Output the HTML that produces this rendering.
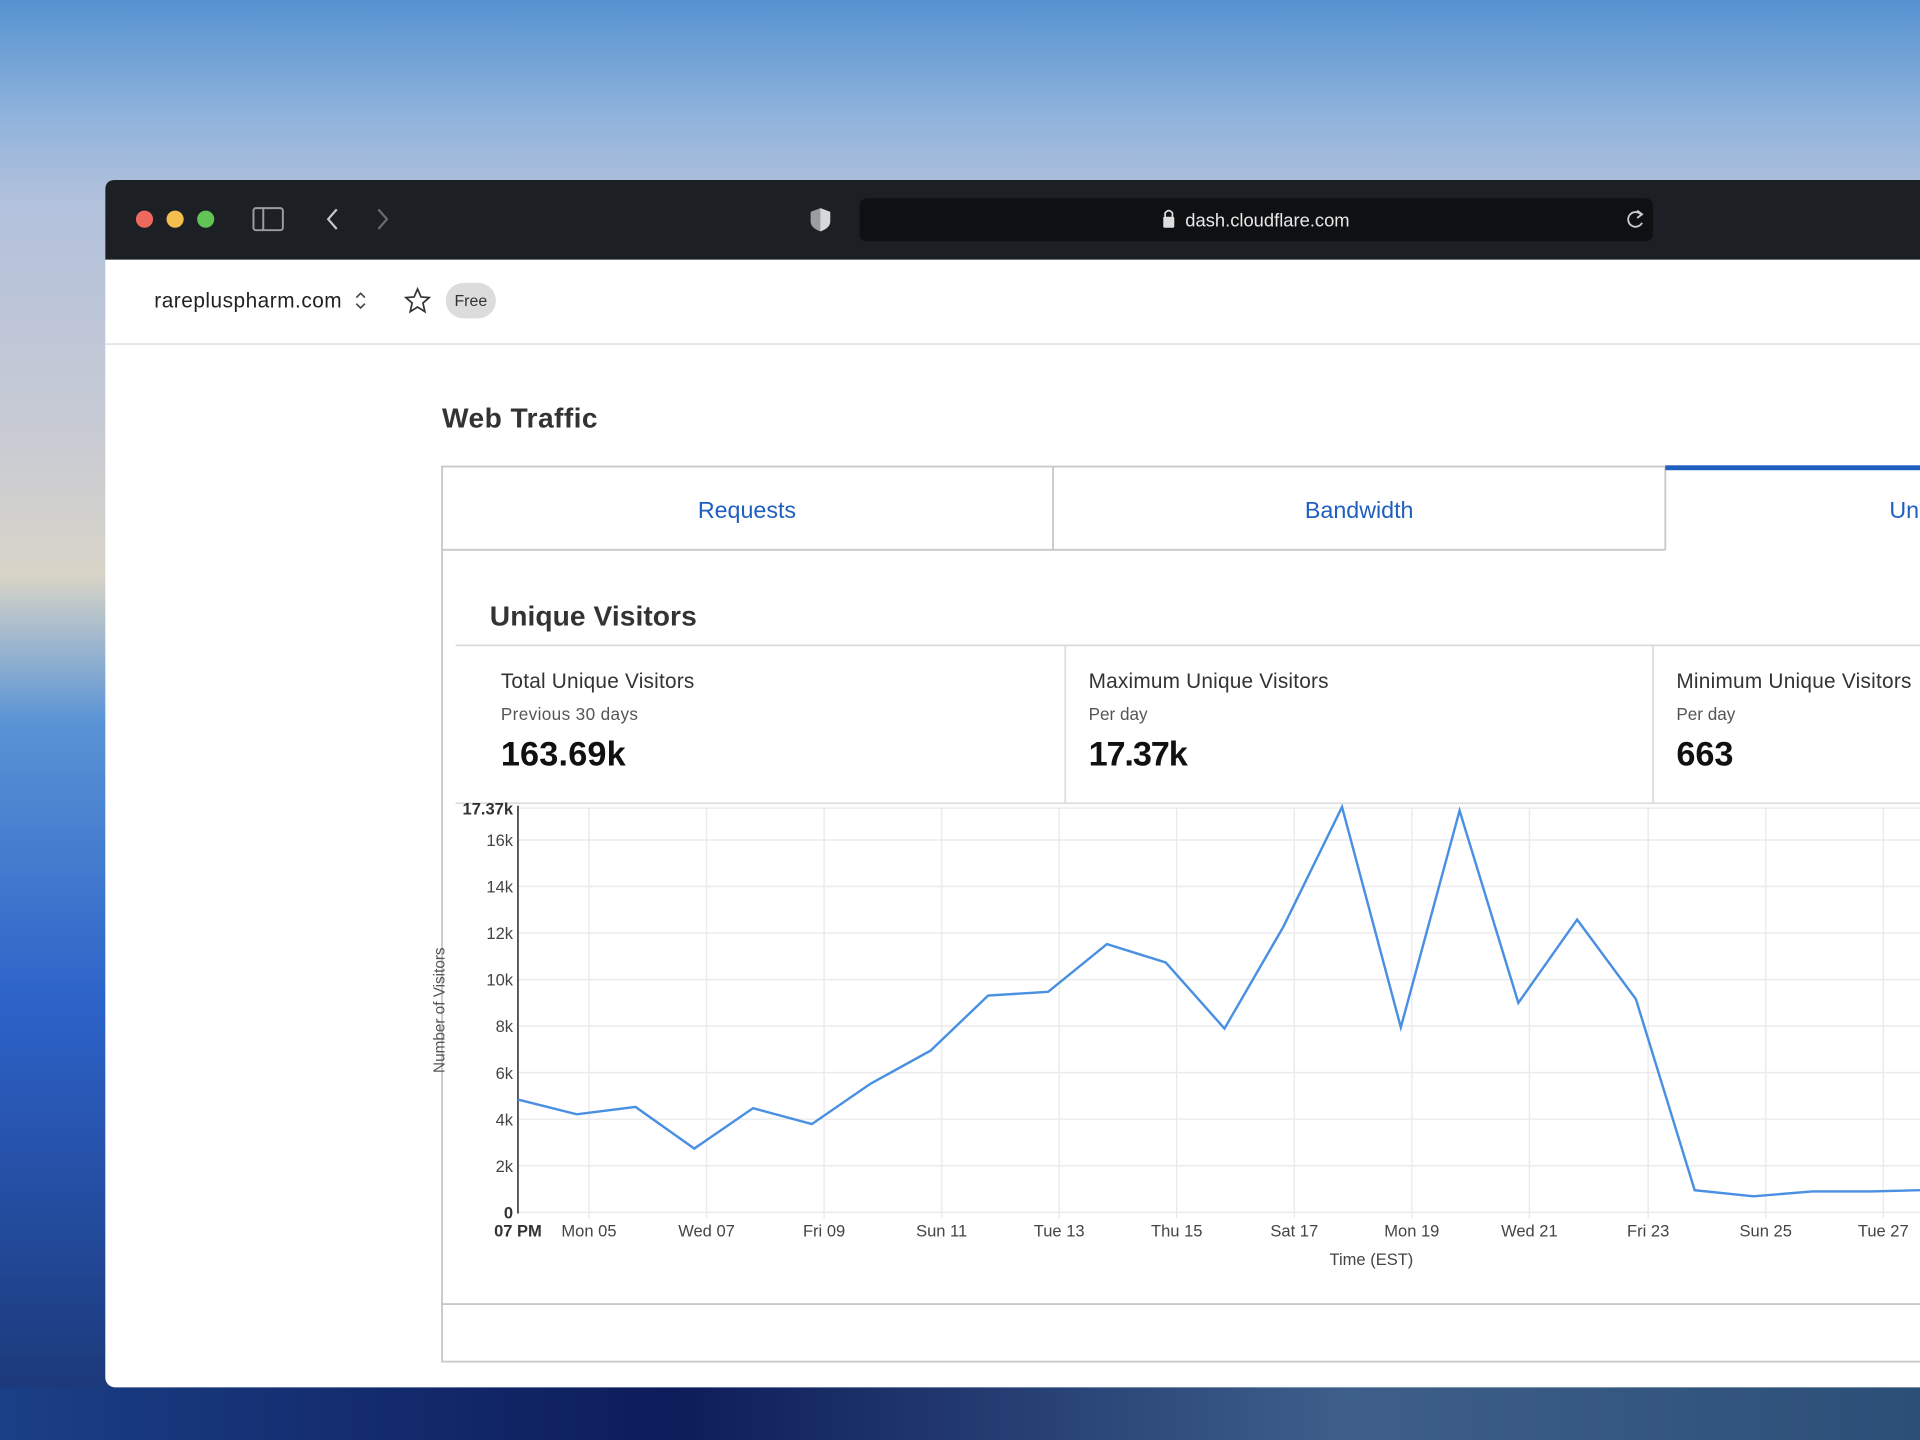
<!DOCTYPE html>
<html><head><meta charset="utf-8"><style>
html,body{margin:0;padding:0;width:1920px;height:1440px;overflow:hidden}
svg{display:block}
text{font-family:"Liberation Sans",sans-serif}
</style></head><body>
<svg width="1920" height="1440" viewBox="0 0 1568 1176" xmlns="http://www.w3.org/2000/svg">
<defs>
<linearGradient id="sky" x1="0" y1="0" x2="0" y2="1">
<stop offset="0" stop-color="#5592d0"/><stop offset="0.08" stop-color="#8fb3dc"/><stop offset="0.14" stop-color="#b2c1dc"/><stop offset="0.3" stop-color="#c8cbd4"/><stop offset="0.4" stop-color="#d8d4c8"/><stop offset="0.5" stop-color="#5a94d4"/><stop offset="0.7" stop-color="#2c62c8"/><stop offset="1" stop-color="#1a3470"/>
</linearGradient>
<linearGradient id="bot" x1="0" y1="0" x2="1" y2="0">
<stop offset="0" stop-color="#1b3f86"/><stop offset="0.35" stop-color="#0d1c5a"/><stop offset="0.7" stop-color="#3d5f8a"/><stop offset="1" stop-color="#2c4f78"/>
</linearGradient>
</defs>
<rect width="1568" height="1176" fill="url(#sky)"/>
<rect x="0" y="1133" width="1568" height="43" fill="url(#bot)"/>
<rect x="86" y="147" width="1500" height="986" rx="8" fill="#fff"/>
<path d="M86 212 V155 Q86 147 94 147 H1568 V212 Z" fill="#1c1f23"/>
<circle cx="118" cy="179" r="7" fill="#ee6a5e"/><circle cx="143" cy="179" r="7" fill="#f5bf4f"/><circle cx="168" cy="179" r="7" fill="#61c454"/>
<rect x="207" y="170" width="24" height="18" rx="2" fill="none" stroke="#9a9da1" stroke-width="1.6"/><line x1="215" y1="170" x2="215" y2="188" stroke="#9a9da1" stroke-width="1.6"/>
<path d="M275 171 L268 179 L275 187" fill="none" stroke="#c8c8c8" stroke-width="1.8"/>
<path d="M309 171 L316 179 L309 187" fill="none" stroke="#6a6d71" stroke-width="1.8"/>
<path d="M670 170 L678 173 V181 Q678 186 670 189 Q662 186 662 181 V173 Z" fill="#9a9da1"/><path d="M670 170 L678 173 V181 Q678 186 670 189 Z" fill="#d8d8d8"/>
<rect x="702" y="162" width="648" height="35" rx="6" fill="#0e1012"/>
<rect x="950" y="177" width="9" height="9" rx="1" fill="#ddd"/><path d="M951.5 178 V174 Q954.5 170 957.5 174 V178" fill="none" stroke="#ddd" stroke-width="1.4"/>
<text x="968" y="185" font-size="15" fill="#e8e8e8">dash.cloudflare.com</text>
<path d="M1340 175 A6 6 0 1 0 1341 182" fill="none" stroke="#ccc" stroke-width="1.5"/><path d="M1337 172 L1341 175 L1337 178" fill="none" stroke="#ccc" stroke-width="1.5"/>
<text x="126" y="251" font-size="17" fill="#222" textLength="153">rareplus<tspan>pharm.com</tspan></text>
<path d="M291 243 L294.5 239.5 L298 243 M291 248 L294.5 251.5 L298 248" fill="none" stroke="#444" stroke-width="1.3"/>
<path d="M341 236 L343.8 242.5 L350.5 243 L345.4 247.5 L347 254.5 L341 250.7 L335 254.5 L336.6 247.5 L331.5 243 L338.2 242.5 Z" fill="none" stroke="#333" stroke-width="1.4"/>
<rect x="364" y="231" width="41" height="29" rx="14.5" fill="#dcdcdc"/>
<text x="384.5" y="250" font-size="13" fill="#333" text-anchor="middle">Free</text>
<line x1="86" y1="281" x2="1568" y2="281" stroke="#e5e5e5" stroke-width="1.5"/>
<text x="361" y="349" font-size="23" font-weight="bold" fill="#333" textLength="127">Web Traffic</text>
<rect x="361" y="381" width="1220" height="731" fill="none" stroke="#c8c8c8" stroke-width="1.5"/>
<line x1="361" y1="449" x2="1360" y2="449" stroke="#c8c8c8" stroke-width="1.5"/>
<line x1="860" y1="381" x2="860" y2="449" stroke="#c8c8c8" stroke-width="1.5"/>
<line x1="1360" y1="381" x2="1360" y2="449" stroke="#c8c8c8" stroke-width="1.5"/>
<rect x="1360" y="380" width="208" height="4" fill="#1f5fbf"/>
<text x="610" y="423" font-size="19" fill="#1f5fbf" text-anchor="middle">Requests</text>
<text x="1110" y="423" font-size="19" fill="#1f5fbf" text-anchor="middle">Bandwidth</text>
<text x="1543" y="423" font-size="19" fill="#1f5fbf">Unique Visitors</text>
<text x="400" y="511" font-size="23" font-weight="bold" fill="#333" textLength="169">Unique Visitors</text>
<line x1="372" y1="527" x2="1568" y2="527" stroke="#ddd" stroke-width="1.5"/>
<line x1="372" y1="656" x2="1568" y2="656" stroke="#ddd" stroke-width="1.5"/>
<line x1="870" y1="527" x2="870" y2="656" stroke="#ddd" stroke-width="1.5"/>
<line x1="1350" y1="527" x2="1350" y2="656" stroke="#ddd" stroke-width="1.5"/>
<text x="409" y="562" font-size="17" fill="#333" textLength="158">Total Unique Visitors</text>
<text x="409" y="588" font-size="14" fill="#555" textLength="112">Previous 30 days</text>
<text x="409" y="625" font-size="28" font-weight="bold" fill="#111" textLength="102">163.69k</text>
<text x="889" y="562" font-size="17" fill="#333" textLength="196">Maximum Unique Visitors</text>
<text x="889" y="588" font-size="14" fill="#555">Per day</text>
<text x="889" y="625" font-size="28" font-weight="bold" fill="#111" textLength="81">17.37k</text>
<text x="1369" y="562" font-size="17" fill="#333" textLength="192">Minimum Unique Visitors</text>
<text x="1369" y="588" font-size="14" fill="#555">Per day</text>
<text x="1369" y="625" font-size="28" font-weight="bold" fill="#111">663</text>
<line x1="361" y1="1065" x2="1568" y2="1065" stroke="#c8c8c8" stroke-width="1.5"/>
<g stroke="#ebebeb" stroke-width="1.2">
<line x1="423" y1="660" x2="1568" y2="660"/>
<line x1="423" y1="686" x2="1568" y2="686"/><line x1="423" y1="724" x2="1568" y2="724"/><line x1="423" y1="762" x2="1568" y2="762"/><line x1="423" y1="800" x2="1568" y2="800"/><line x1="423" y1="838" x2="1568" y2="838"/><line x1="423" y1="876" x2="1568" y2="876"/><line x1="423" y1="914" x2="1568" y2="914"/><line x1="423" y1="952" x2="1568" y2="952"/><line x1="423" y1="990" x2="1568" y2="990"/>
<line x1="481" y1="660" x2="481" y2="995"/><line x1="577" y1="660" x2="577" y2="995"/><line x1="673" y1="660" x2="673" y2="995"/><line x1="769" y1="660" x2="769" y2="995"/><line x1="865" y1="660" x2="865" y2="995"/><line x1="961" y1="660" x2="961" y2="995"/><line x1="1057" y1="660" x2="1057" y2="995"/><line x1="1153" y1="660" x2="1153" y2="995"/><line x1="1249" y1="660" x2="1249" y2="995"/><line x1="1346" y1="660" x2="1346" y2="995"/><line x1="1442" y1="660" x2="1442" y2="995"/><line x1="1538" y1="660" x2="1538" y2="995"/>
</g>
<line x1="423" y1="658" x2="423" y2="991" stroke="#333" stroke-width="1.3"/>
<g font-size="13.5" fill="#444" text-anchor="end">
<text x="419" y="665" font-weight="bold" fill="#333">17.37k</text>
<text x="419" y="691">16k</text><text x="419" y="729">14k</text><text x="419" y="767">12k</text><text x="419" y="805">10k</text><text x="419" y="843">8k</text><text x="419" y="881">6k</text><text x="419" y="919">4k</text><text x="419" y="957">2k</text><text x="419" y="995" font-weight="bold" fill="#333">0</text>
</g>
<g font-size="13.5" fill="#444" text-anchor="middle">
<text x="423" y="1010" font-weight="bold" fill="#333">07 PM</text>
<text x="481" y="1010">Mon 05</text><text x="577" y="1010">Wed 07</text><text x="673" y="1010">Fri 09</text><text x="769" y="1010">Sun 11</text><text x="865" y="1010">Tue 13</text><text x="961" y="1010">Thu 15</text><text x="1057" y="1010">Sat 17</text><text x="1153" y="1010">Mon 19</text><text x="1249" y="1010">Wed 21</text><text x="1346" y="1010">Fri 23</text><text x="1442" y="1010">Sun 25</text><text x="1538" y="1010">Tue 27</text>
<text x="1120" y="1033">Time (EST)</text>
</g>
<text transform="translate(363,825) rotate(-90)" font-size="12.5" fill="#555" text-anchor="middle">Number of Visitors</text>
<polyline fill="none" stroke="#4a90e2" stroke-width="2" points="423,898 471,910 519,904 567,938 615,905 663,918 711,885 760,858 807,813 856,810 904,771 952,786 1000,840 1048,757 1096,659 1144,839 1192,662 1240,819 1288,751 1336,816 1384,972 1432,977 1480,973 1528,973 1568,972"/>
</svg>
</body></html>
